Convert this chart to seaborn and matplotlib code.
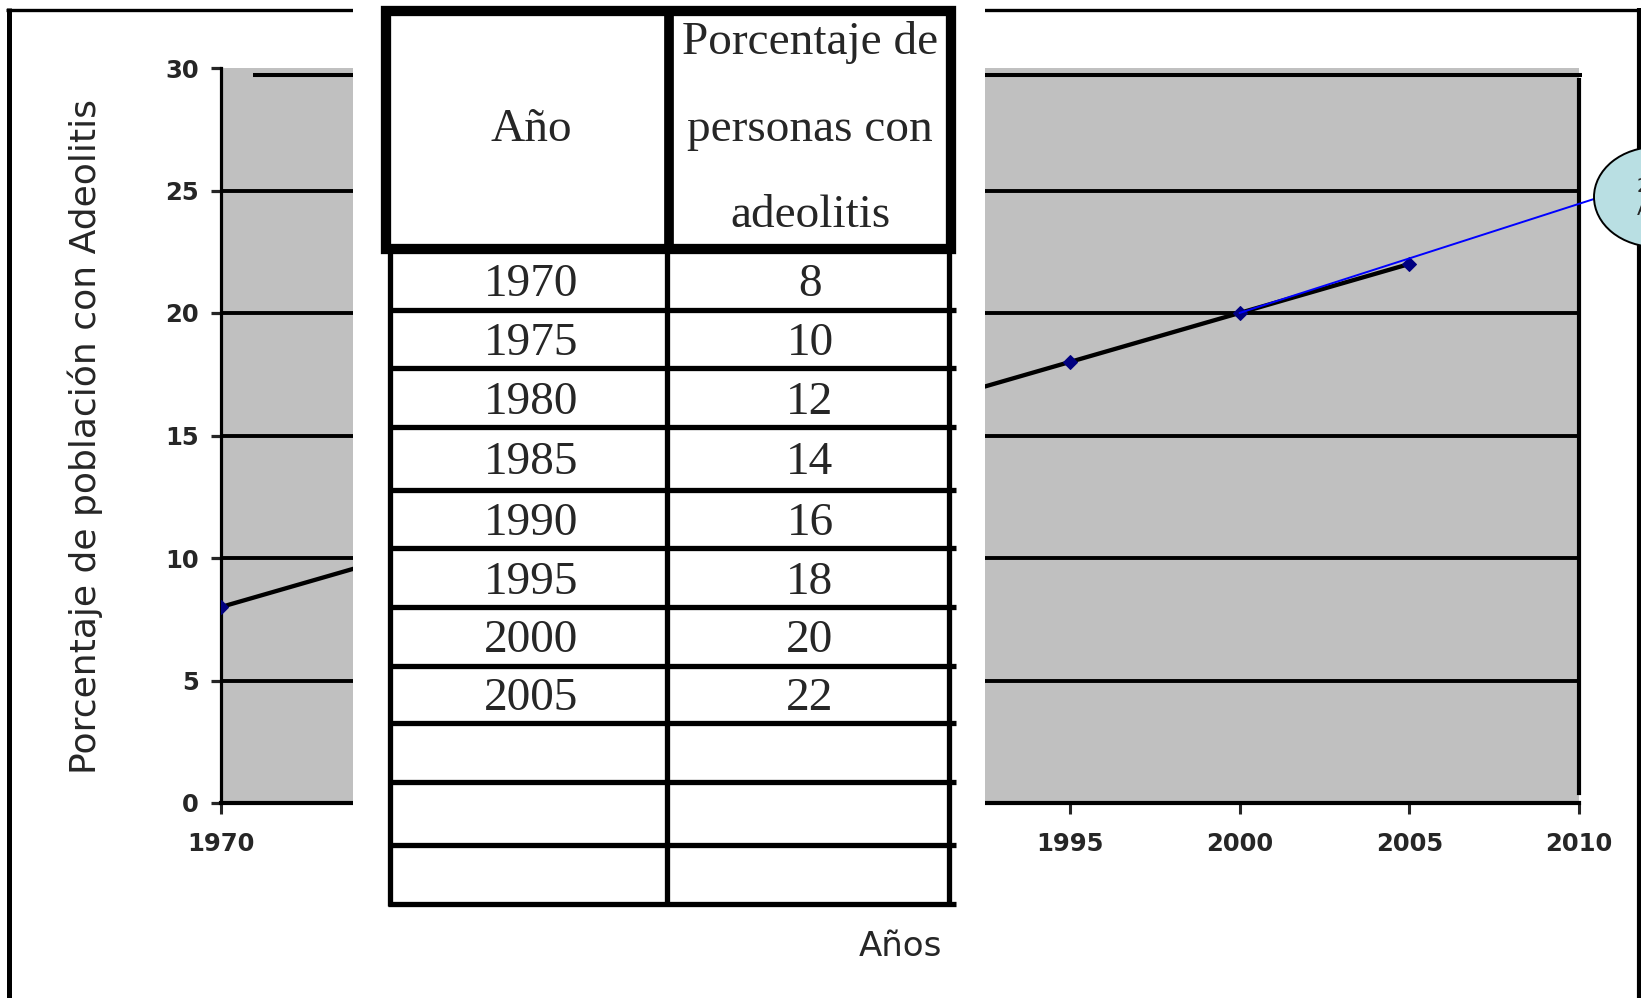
import matplotlib
matplotlib.use("Agg")
import matplotlib.pyplot as plt
import seaborn as sns
import pandas as pd
from matplotlib.patches import Rectangle, Ellipse, ConnectionPatch

# ---- data -------------------------------------------------------------
years = [1970, 1975, 1980, 1985, 1990, 1995, 2000, 2005]
percent = [8, 10, 12, 14, 16, 18, 20, 22]
x_ticks = [1970, 1975, 1980, 1985, 1990, 1995, 2000, 2005, 2010]
y_ticks = [0, 5, 10, 15, 20, 25, 30]
y_title = "Porcentaje de población con Adeolitis"
x_title = "Años"
header_year = "Año"
header_value = ["Porcentaje de", "personas con", "adeolitis"]
callout_lines = ["22", "Año"]

# ---- canvas (pixel layout helpers) -------------------------------------
W, H, DPI = 1641, 998, 100
sns.set_style("white")
plt.rcParams["font.family"] = ["DejaVu Sans"]

fig = plt.figure(figsize=(W / DPI, H / DPI), dpi=DPI)
fig.patch.set_facecolor("white")

PL, PR, PT, PB = 221, 1579, 68, 803
ax = fig.add_axes([PL / W, 1 - PB / H, (PR - PL) / W, (PB - PT) / H])
ax.set_facecolor("#C0C0C0")

df = pd.DataFrame({"anio": years, "pct": percent})
sns.lineplot(data=df, x="anio", y="pct", ax=ax, color="black", linewidth=3.1,
             marker="D", markersize=7.5, markerfacecolor="#000080",
             markeredgecolor="#000080", zorder=3)

ax.set_xlim(x_ticks[0], x_ticks[-1])
ax.set_ylim(y_ticks[0], y_ticks[-1])
ax.set_xticks(x_ticks)
ax.set_yticks(y_ticks)
ax.set_xlabel("")
ax.set_ylabel("")

# horizontal rules across the grey plot area
ax.hlines(y_ticks[1:-1], x_ticks[0], x_ticks[-1], color="black", lw=2.8, zorder=1)
ax.hlines(29.72, 1970.95, 2010.1, color="black", lw=2.9, zorder=1, clip_on=False)

ax.spines["top"].set_visible(False)
ax.spines["right"].set_bounds(0.4, 29.5)
ax.spines["right"].set_linewidth(3.0)
ax.spines["bottom"].set_linewidth(3.0)
ax.spines["left"].set_linewidth(2.3)
for s in ax.spines.values():
    s.set_color("black")

ax.tick_params(axis="y", direction="out", length=7.2, width=2.3, pad=8.6,
               labelsize=17.5, left=True)
ax.tick_params(axis="x", direction="out", length=8.0, width=2.2, pad=13,
               labelsize=17.5, bottom=True)
for lbl in ax.get_xticklabels() + ax.get_yticklabels():
    lbl.set_fontweight("bold")

# ---- overlay in pixel coordinates --------------------------------------
ov = fig.add_axes([0, 0, 1, 1], zorder=5)
ov.set_xlim(0, W)
ov.set_ylim(H, 0)
ov.axis("off")

# outer frame
ov.plot([8.5, 8.5], [8, H], color="black", lw=3.6, solid_capstyle="butt", zorder=1)
ov.plot([6, W], [9.5, 9.5], color="black", lw=2.4, solid_capstyle="butt", zorder=1)
ov.plot([1639, 1639], [8, H], color="black", lw=3.0, solid_capstyle="butt", zorder=1)

# white panel holding the table
ov.add_patch(Rectangle((353, 0), 985 - 353, H, facecolor="white",
                       edgecolor="none", zorder=2))

# table grid
tl, tdiv, tr = 389.5, 667, 948.5
row_edges = [249, 310, 368, 427, 490, 548, 607, 666, 723, 782, 845, 904]
ov.add_patch(Rectangle((386, 11), 951 - 386, 249 - 11, fill=False,
                       edgecolor="black", lw=7.4, zorder=3))
ov.plot([669, 669], [11, 249], color="black", lw=7.0, zorder=3)
for xv in (tl, tdiv, tr):
    ov.plot([xv, xv], [249, row_edges[-1] + 2], color="black", lw=3.8,
            solid_capstyle="butt", zorder=3)
for yv in row_edges[1:]:
    ov.plot([tl - 2, 956], [yv, yv], color="black", lw=3.8,
            solid_capstyle="butt", zorder=3)

serif = ["Liberation Serif", "DejaVu Serif"]
cx_year, cx_val = 531, 810
ov.text(cx_year, 141, header_year, ha="center", va="baseline", fontsize=34,
        family=serif, zorder=4)
for txt, yb in zip(header_value, [54, 141, 227]):
    ov.text(cx_val, yb, txt, ha="center", va="baseline", fontsize=34,
            family=serif, zorder=4)
for i, (yr, pc) in enumerate(zip(years, percent)):
    yc = (row_edges[i] + row_edges[i + 1]) / 2 + 16
    ov.text(cx_year, yc, str(yr), ha="center", va="baseline", fontsize=34,
            family=serif, zorder=4)
    ov.text(cx_val, yc, str(pc), ha="center", va="baseline", fontsize=34,
            family=serif, zorder=4)

# axis titles
ov.text(85, 437, y_title, rotation=90, ha="center", va="center", fontsize=26,
        zorder=4)
ov.text(900, 947, x_title, ha="center", va="center", fontsize=24.5, zorder=4)

# callout bubble
ov.add_patch(Ellipse((1656, 197), 124, 100, facecolor="#B9DFE3",
                     edgecolor="black", lw=1.4, zorder=6))
ov.text(1637, 198, "\n".join(callout_lines), ha="left", va="center",
        fontsize=14, linespacing=1.3, zorder=7)

con = ConnectionPatch(xyA=(years[-2], percent[-2]), coordsA=ax.transData,
                      xyB=(1594, 199), coordsB=ov.transData,
                      color="blue", lw=1.4)
fig.add_artist(con)

fig.savefig("out.png", dpi=DPI, facecolor="white")
